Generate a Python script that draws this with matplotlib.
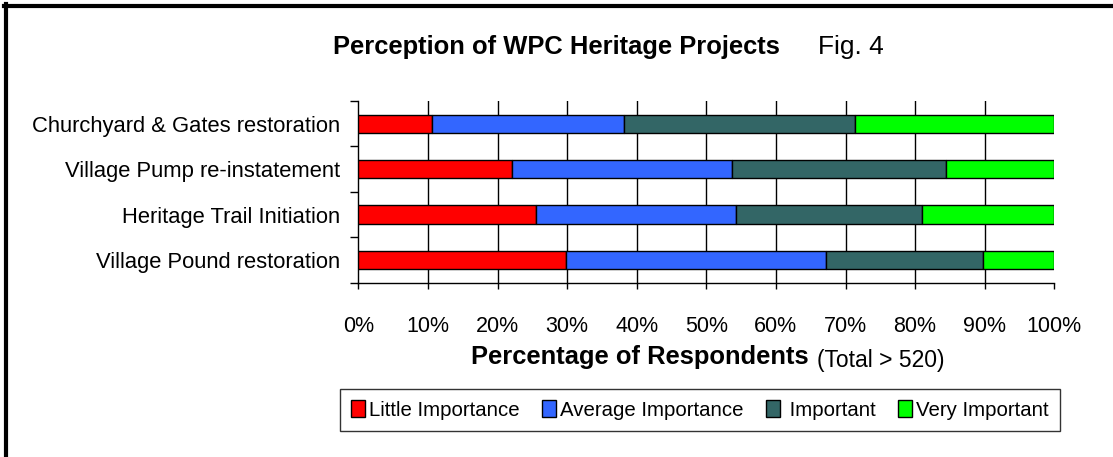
import matplotlib
matplotlib.use("Agg")
import matplotlib.pyplot as plt
import numpy as np
from matplotlib.lines import Line2D

plt.rcParams['font.family'] = ['Liberation Sans', 'DejaVu Sans']

categories = ["Churchyard & Gates restoration", "Village Pump re-instatement",
              "Heritage Trail Initiation", "Village Pound restoration"]
series_names = ["Little Importance", "Average Importance", " Important", "Very Important"]
little = [10.6, 22.1, 25.6, 29.9]
average = [27.6, 31.6, 28.7, 37.3]
important = [33.1, 30.8, 26.7, 22.5]
very = [28.7, 15.5, 19.0, 10.3]
colors = ["#FF0000", "#3366FF", "#336666", "#00FF00"]
xtick_vals = list(range(0, 101, 10))
xtick_labels = [f"{v}%" for v in xtick_vals]

W, H = 1113, 457
fig = plt.figure(figsize=(W / 100, H / 100), dpi=100)

def fx(px):
    return px / W

def fy(py):
    return 1 - py / H

ax = fig.add_axes([fx(358.3), fy(282.7), fx(1054.3) - fx(358.3), fy(101) - fy(282.7)])

y = np.arange(len(categories))
left = np.zeros(len(categories))
for vals, c, name in zip([little, average, important, very], colors, series_names):
    ax.barh(y, vals, left=left, height=0.4, color=c, edgecolor='black', linewidth=1.0,
            label=name, zorder=3)
    left = left + np.array(vals)

ax.set_xlim(0, 100)
ax.set_ylim(3.5, -0.5)

for v in xtick_vals[1:-1]:
    ax.axvline(v, color='black', linewidth=1.0, zorder=1)

ax.spines['top'].set_visible(False)
ax.spines['right'].set_visible(False)
ax.spines['left'].set_linewidth(1.0)
ax.spines['bottom'].set_linewidth(1.0)

ax.set_xticks(xtick_vals)
ax.set_xticklabels(xtick_labels, fontsize=15.5)
ax.tick_params(axis='x', direction='out', length=4, width=1.0, pad=20)

ax.set_yticks(np.arange(-0.5, len(categories), 1.0))
ax.set_yticklabels([])
ax.tick_params(axis='y', which='major', direction='out', length=6, width=1.0)
ax.set_yticks(y, minor=True)
ax.set_yticklabels(categories, minor=True, fontsize=15.8)
ax.tick_params(axis='y', which='minor', length=0, pad=13)

# Title
fig.text(fx(780), fy(47), "Perception of WPC Heritage Projects", ha='right', va='center',
         fontsize=18.4, fontweight='bold')
fig.text(fx(818), fy(47), "Fig. 4", ha='left', va='center', fontsize=19)

# X label
fig.text(fx(809), fy(357), "Percentage of Respondents", ha='right', va='center',
         fontsize=18.4, fontweight='bold')
fig.text(fx(817), fy(360), "(Total > 520)", ha='left', va='center', fontsize=16.5)

# Legend
handles, labels = ax.get_legend_handles_labels()
leg = fig.legend(handles, labels, loc='center', bbox_to_anchor=(fx(700), fy(410)),
                 ncol=4, fontsize=14.7, frameon=True, fancybox=False, edgecolor='black',
                 handlelength=0.68, handleheight=0.85, handletextpad=0.2, columnspacing=1.1,
                 borderpad=0.55, borderaxespad=0)
leg.get_frame().set_linewidth(1.0)

# Figure border (top and left only visible)
fig.add_artist(Line2D([fx(6), fx(6)], [fy(4), 0], color='black', linewidth=3.0,
                      transform=fig.transFigure))
fig.add_artist(Line2D([fx(4), 1], [fy(6), fy(6)], color='black', linewidth=3.0,
                      transform=fig.transFigure))

fig.savefig("out.png", dpi=100)
